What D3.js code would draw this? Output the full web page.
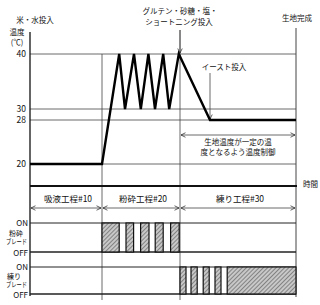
<!DOCTYPE html>
<html>
<head>
<meta charset="utf-8">
<script src="https://cdn.jsdelivr.net/npm/d3@7"></script>
<style>
  body { margin: 0; background: #fff; }
  text { font-family: "Noto Sans CJK JP", sans-serif; fill: #111; }
</style>
</head>
<body>
<svg id="chart" width="320" height="305"></svg>
<script>
// time is in arbitrary units (0 = start, 133 = dough finished)
var tempTicks = [40, 30, 28, 20];
var tempTime = [0, 36, 44.6, 47.5, 52, 55.4, 59.2, 62.5, 66.6, 69.6, 74.4, 90, 133];
var tempValue = [20, 20, 40, 30, 40, 30, 40, 30, 40, 30, 40, 28, 28];
var stageNames = ["吸液工程#10", "粉砕工程#20", "練り工程#30"];
var stageEnds = [0, 36, 75, 133];
var crushOn = [[36, 44.6], [48, 51.8], [55.3, 59.5], [62.6, 66.6], [70.3, 74.6]];
var kneadOn = [[75, 78], [80.5, 83.6], [86.6, 89.6], [92.5, 95.5], [98.6, 133]];
var yeastTime = 90;

var svg = d3.select("#chart");

var x = d3.scaleLinear().domain([0, 133]).range([30, 296]);
var y = d3.scaleLinear().domain([16, 40]).range([186, 54]);
var crushY = d3.scaleLinear().domain([0, 1]).range([252, 223]);
var kneadY = d3.scaleLinear().domain([0, 1]).range([294, 267]);

var defs = svg.append("defs");
var pat = defs.append("pattern")
  .attr("id", "hatch")
  .attr("patternUnits", "userSpaceOnUse")
  .attr("width", 3).attr("height", 3)
  .attr("patternTransform", "rotate(45)");
pat.append("rect").attr("width", 3).attr("height", 3).attr("fill", "#c8c8c8");
pat.append("line").attr("x1", 0).attr("y1", 0).attr("x2", 0).attr("y2", 3)
  .attr("stroke", "#555").attr("stroke-width", 1.2);

function marker(id, path) {
  defs.append("marker")
    .attr("id", id)
    .attr("viewBox", "0 0 10 10")
    .attr("refX", 9).attr("refY", 5)
    .attr("markerWidth", 7).attr("markerHeight", 7)
    .attr("orient", "auto-start-reverse")
    .append("path").attr("d", path)
    .attr("fill", "none").attr("stroke", "#222").attr("stroke-width", 1.3);
}
marker("arr", "M1,1 L9,5 L1,9");

var grid = "#444";

// temperature grid lines
svg.selectAll(".grid")
  .data(tempTicks)
  .enter().append("line")
  .attr("x1", x(0)).attr("x2", x(133))
  .attr("y1", function(d) { return y(d); })
  .attr("y2", function(d) { return y(d); })
  .attr("stroke", grid).attr("stroke-width", 0.8);

svg.selectAll(".tick")
  .data(tempTicks)
  .enter().append("text")
  .attr("x", 26).attr("y", function(d) { return y(d) + 3; })
  .attr("text-anchor", "end")
  .attr("font-size", 8.5)
  .text(function(d) { return d; });

// vertical separators
svg.selectAll(".sep")
  .data([36, 75])
  .enter().append("line")
  .attr("x1", function(d) { return x(d); })
  .attr("x2", function(d) { return x(d); })
  .attr("y1", function(d) { return d === 75 ? 30 : y(40); })
  .attr("y2", 300)
  .attr("stroke", grid).attr("stroke-width", 0.8);

svg.append("line")
  .attr("x1", x(133)).attr("x2", x(133))
  .attr("y1", 28).attr("y2", 297)
  .attr("stroke", grid).attr("stroke-width", 1);

// top arrow at gluten etc.
svg.append("line")
  .attr("x1", x(75)).attr("x2", x(75))
  .attr("y1", 30).attr("y2", y(40) - 1)
  .attr("stroke", grid).attr("stroke-width", 0.8)
  .attr("marker-end", "url(#arr)");

// yeast arrow
svg.append("line")
  .attr("x1", x(yeastTime)).attr("x2", x(yeastTime))
  .attr("y1", 73).attr("y2", y(28) - 1)
  .attr("stroke", grid).attr("stroke-width", 0.8)
  .attr("marker-end", "url(#arr)");

// axes
svg.append("line")
  .attr("x1", x(0)).attr("x2", x(0))
  .attr("y1", 32).attr("y2", 296)
  .attr("stroke", "#111").attr("stroke-width", 1.3);
svg.append("line")
  .attr("x1", x(0)).attr("x2", x(133) + 1)
  .attr("y1", y(16)).attr("y2", y(16))
  .attr("stroke", "#111").attr("stroke-width", 1.8);

// temperature line
var pts = tempTime.map(function(t, i) { return [t, tempValue[i]]; });
svg.append("path")
  .datum(pts)
  .attr("fill", "none")
  .attr("stroke", "#000")
  .attr("stroke-width", 2.4)
  .attr("stroke-linejoin", "miter")
  .attr("d", d3.line()
    .x(function(d) { return x(d[0]); })
    .y(function(d) { return y(d[1]); }));

// control annotation
svg.append("line")
  .attr("x1", x(75) + 1).attr("x2", x(133) - 1)
  .attr("y1", 135).attr("y2", 135)
  .attr("stroke", grid).attr("stroke-width", 0.8)
  .attr("marker-start", "url(#arr)")
  .attr("marker-end", "url(#arr)");
svg.append("text").attr("x", 238).attr("y", 145).attr("text-anchor", "middle")
  .attr("font-size", 7.5).text("生地温度が一定の温");
svg.append("text").attr("x", 238).attr("y", 155).attr("text-anchor", "middle")
  .attr("font-size", 7.5).text("度となるよう温度制御");

// stages
svg.selectAll(".stage")
  .data(stageNames)
  .enter().append("text")
  .attr("x", function(d, i) { return (x(stageEnds[i]) + x(stageEnds[i + 1])) / 2 + 2; })
  .attr("y", 202)
  .attr("text-anchor", "middle")
  .attr("font-size", 8.5)
  .text(function(d) { return d; });

svg.selectAll(".stageArrow")
  .data(stageNames)
  .enter().append("line")
  .attr("x1", function(d, i) { return x(stageEnds[i]) + 1; })
  .attr("x2", function(d, i) { return x(stageEnds[i + 1]) - 1; })
  .attr("y1", 208).attr("y2", 208)
  .attr("stroke", grid).attr("stroke-width", 0.8)
  .attr("marker-start", "url(#arr)")
  .attr("marker-end", "url(#arr)");

// blade panels
function bladePanel(sy, data, label) {
  [0, 1].forEach(function(v) {
    svg.append("line")
      .attr("x1", x(0)).attr("x2", x(133))
      .attr("y1", sy(v)).attr("y2", sy(v))
      .attr("stroke", "#222").attr("stroke-width", v ? 1 : 1.4);
  });
  svg.selectAll(null)
    .data(data)
    .enter().append("rect")
    .attr("x", function(d) { return x(d[0]); })
    .attr("width", function(d) { return x(d[1]) - x(d[0]); })
    .attr("y", sy(1))
    .attr("height", sy(0) - sy(1))
    .attr("fill", "url(#hatch)")
    .attr("stroke", "#111").attr("stroke-width", 1.2);
  svg.append("text").attr("x", 28).attr("y", sy(1) + 3).attr("text-anchor", "end")
    .attr("font-size", 8).text("ON");
  svg.append("text").attr("x", 28).attr("y", sy(0) + 3.5).attr("text-anchor", "end")
    .attr("font-size", 8).text("OFF");
  var mid = (sy(0) + sy(1)) / 2;
  svg.append("text").attr("x", label === "粉砕" ? 16 : 14).attr("y", mid - 2)
    .attr("text-anchor", "middle").attr("font-size", 7).text(label);
  svg.append("text").attr("x", 6).attr("y", mid + 6.5)
    .attr("font-size", 7)
    .attr("textLength", 21).attr("lengthAdjust", "spacingAndGlyphs")
    .text("ブレード");
}
bladePanel(crushY, crushOn, "粉砕");
bladePanel(kneadY, kneadOn, "練り");

// labels
function label(tx, ty, s, size, anchor) {
  svg.append("text").attr("x", tx).attr("y", ty)
    .attr("text-anchor", anchor || "middle")
    .attr("font-size", size).text(s);
}
label(35, 23, "米・水投入", 7.5);
label(180, 14, "グルテン・砂糖・塩・", 7.5);
label(179, 25, "ショートニング投入", 7.5);
label(297, 21, "生地完成", 7.5);
label(224, 70, "イースト投入", 7.5);
label(17, 35, "温度", 7.5);
label(17, 44.5, "(℃)", 7.5);
label(303, 187, "時間", 7.5, "start");
</script>
</body>
</html>
